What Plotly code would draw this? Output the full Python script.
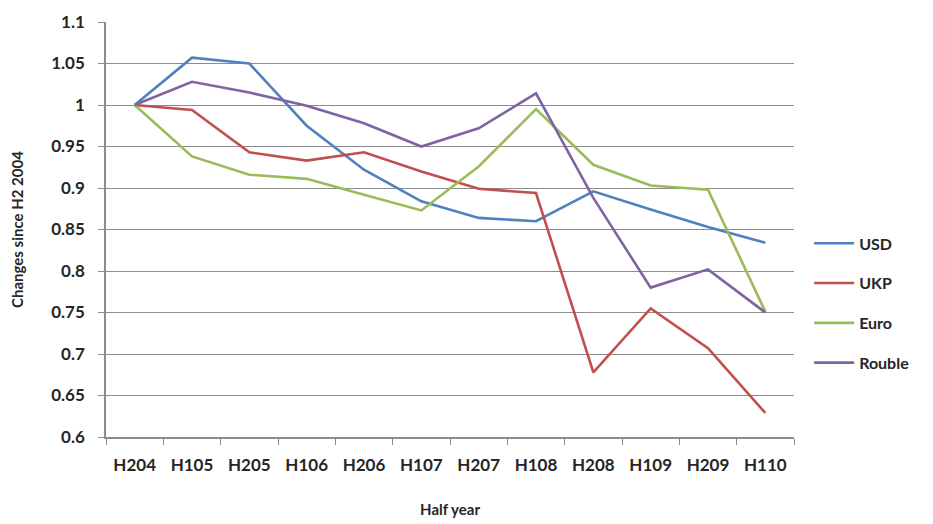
import plotly.graph_objects as go

half_years = ["H204", "H105", "H205", "H106", "H206", "H107",
              "H207", "H108", "H208", "H109", "H209", "H110"]

usd = [1.0, 1.057, 1.050, 0.975, 0.922, 0.884, 0.864, 0.860, 0.896, 0.874, 0.853, 0.834]
ukp = [1.0, 0.994, 0.943, 0.933, 0.943, 0.920, 0.899, 0.894, 0.678, 0.755, 0.707, 0.629]
euro = [1.0, 0.938, 0.916, 0.911, 0.892, 0.873, 0.926, 0.995, 0.928, 0.903, 0.898, 0.751]
rouble = [1.0, 1.028, 1.015, 0.999, 0.978, 0.950, 0.972, 1.014, 0.888, 0.780, 0.802, 0.750]

series = [
    ("USD", usd, "#4F81BD"),
    ("UKP", ukp, "#C0504D"),
    ("Euro", euro, "#9BBB59"),
    ("Rouble", rouble, "#8064A2"),
]

font_family = "Lato, Liberation Sans, Arial"
tick_font = dict(family=font_family, size=17, color="#262626", weight="bold")

fig = go.Figure()
for name, values, color in series:
    fig.add_trace(go.Scatter(
        x=half_years, y=values, name=name, mode="lines",
        line=dict(color=color, width=2.6),
        legendgroup=name,
    ))

fig.update_layout(
    width=933, height=524,
    margin=dict(l=106, r=139, t=22, b=87),
    paper_bgcolor="white", plot_bgcolor="white",
    font=dict(family=font_family, size=15, color="#262626"),
    showlegend=True,
    legend=dict(
        x=1.022, xanchor="left", y=0.322, yanchor="middle",
        traceorder="grouped", tracegroupgap=16,
        font=dict(family=font_family, size=16, color="#262626", weight="bold"),
        itemwidth=40,
    ),
    xaxis=dict(
        type="category", range=[-0.5, 11.5], automargin=False,
        showgrid=False, showline=True, linecolor="#8c8c8c", linewidth=1.5,
        ticks="outside", tickson="boundaries", ticklen=6, tickcolor="#8c8c8c",
        ticklabelstandoff=12,
        tickfont=tick_font,
        title=dict(text="<b>Half year</b>", standoff=30,
                   font=dict(family=font_family, size=15, color="#262626")),
    ),
    yaxis=dict(
        range=[0.6, 1.1], dtick=0.05, automargin=False,
        showgrid=True, gridcolor="#8c8c8c", gridwidth=1.2,
        showline=True, linecolor="#8c8c8c", linewidth=1.5,
        ticks="outside", ticklen=6, tickcolor="#8c8c8c",
        ticklabelstandoff=10,
        tickfont=tick_font,
        title=dict(text="<b>Changes since H2 2004</b>", standoff=24,
                   font=dict(family=font_family, size=15, color="#262626")),
        zeroline=False,
    ),
)

fig.write_html("out.html")
